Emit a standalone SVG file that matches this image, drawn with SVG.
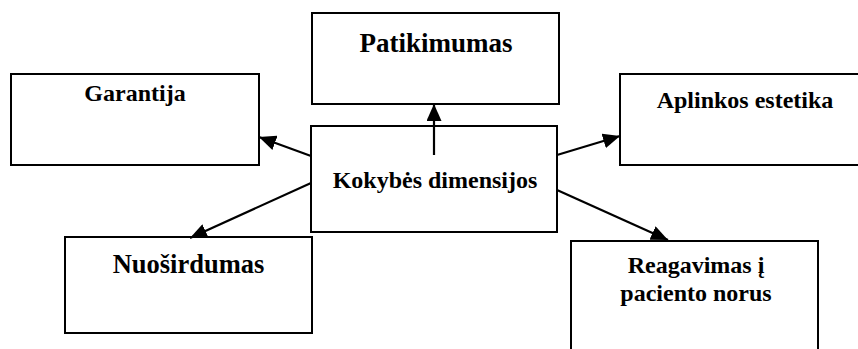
<svg xmlns="http://www.w3.org/2000/svg" width="858" height="349" viewBox="0 0 858 349">
<style>
.box{fill:#fff;stroke:#000;stroke-width:2}
.t{font-family:'Liberation Serif','Times New Roman','DejaVu Serif',serif;font-weight:700;fill:#000;text-anchor:middle}
.c{stroke:#000;stroke-width:2.2;fill:none;marker-end:url(#ah)}
</style>
<defs>
<marker id="ah" markerUnits="userSpaceOnUse" markerWidth="17" markerHeight="15" refX="17" refY="7.5" orient="auto">
<path d="M0,0 L17,7.5 L0,15 z" fill="#000"/>
</marker>
</defs>
<g id="garantija">
<rect class="box" x="11" y="74" width="248" height="91"/>
<text class="t" x="135" y="101" font-size="24">Garantija</text>
</g>
<g id="patikimumas">
<rect class="box" x="312" y="13" width="247" height="91"/>
<text class="t" x="436" y="52" font-size="27">Patikimumas</text>
</g>
<g id="aplinkos">
<rect class="box" x="620" y="74" width="250" height="91"/>
<text class="t" x="745" y="108" font-size="24">Aplinkos estetika</text>
</g>
<g id="kokybes">
<rect class="box" x="311" y="126" width="246" height="106"/>
<text class="t" x="435" y="188" font-size="24">Kokybės dimensijos</text>
</g>
<g id="nuosirdumas">
<rect class="box" x="65" y="237" width="247" height="96"/>
<text class="t" x="188.5" y="273" font-size="26.5">Nuoširdumas</text>
</g>
<g id="reagavimas">
<rect class="box" x="571" y="241" width="247" height="120"/>
<text class="t" x="696" y="273" font-size="24">Reagavimas į</text>
<text class="t" x="696" y="301" font-size="24">paciento norus</text>
</g>
<g id="connectors">
<line class="c" x1="434" y1="155" x2="434" y2="104"/>
<line class="c" x1="311" y1="156" x2="259" y2="137"/>
<line class="c" x1="311" y1="183" x2="190" y2="238"/>
<line class="c" x1="557" y1="155" x2="620" y2="136"/>
<line class="c" x1="557" y1="190" x2="668" y2="240"/>
</g>
</svg>
